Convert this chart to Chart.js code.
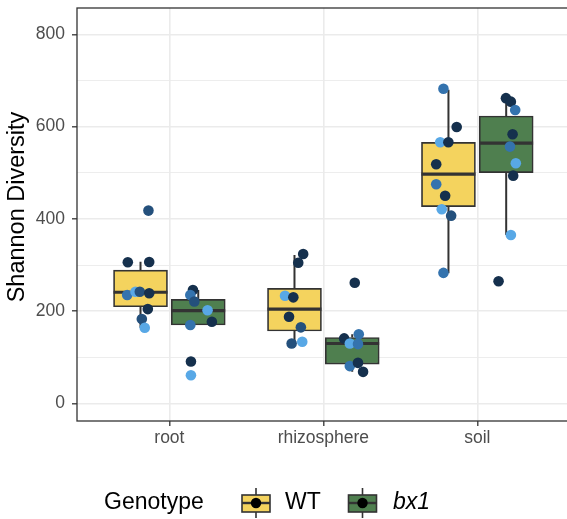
<!DOCTYPE html>
<html lang="en">
<head>
<meta charset="UTF-8" />
<title>Shannon Diversity by Compartment</title>
<script src="https://cdn.jsdelivr.net/npm/chart.js"></script>
<style>
  html, body { margin: 0; padding: 0; background: #fff; overflow: hidden; }
  #wrap { width: 575px; height: 519px; }
</style>
</head>
<body>
<div id="wrap"><canvas id="diversityChart"></canvas></div>
<script>
const compartments = ["root", "rhizosphere", "soil"];
const genotypes = ["WT", "bx1"];
const yTicks = [0, 100, 200, 300, 400, 500, 600, 700, 800];
const yTitle = "Shannon Diversity";

// box stats per compartment: [lower whisker, Q1, median, Q3, upper whisker]
const wtBoxes = [
  [164, 209.5, 241, 289, 307],
  [130, 157, 204.5, 249.5, 322],
  [282, 426.5, 497, 566, 680]
];
const bx1Boxes = [
  [170, 170, 201, 225.6, 246],
  [68.5, 85, 130, 143, 150],
  [365, 500, 564, 623, 661.6]
];

// jittered samples: position along the compartment axis and diversity
const wtX = [0.864, 0.730, 0.869, 0.726, 0.780, 0.808, 0.869, 0.860, 0.821, 0.840,
             1.869, 1.837, 1.751, 1.805, 1.777, 1.854, 1.794, 1.863,
             2.780, 2.866, 2.759, 2.812, 2.733, 2.733, 2.791, 2.769, 2.830, 2.780];
const wtY = [418, 306, 306.5, 235, 242, 242, 239, 204.5, 183, 164,
             324, 305, 233.5, 230, 188, 165, 130, 133.6,
             682, 599, 566, 566, 518.5, 475, 450, 421, 407, 283];
const bx1X = [1.153, 1.136, 1.162, 1.248, 1.136, 1.276, 1.140, 1.140,
              2.204, 2.135, 2.230, 2.172, 2.225, 2.172, 2.225, 2.258,
              3.186, 3.218, 3.246, 3.229, 3.212, 3.250, 3.233, 3.218, 3.138];
const bx1Y = [246, 235, 221, 202, 170, 177, 91, 61,
              261.6, 141, 150, 130, 128.6, 81, 88, 68.5,
              661.6, 654, 636, 583.5, 556.6, 520.6, 493.7, 365, 265];

// colour level of each sample (0 = darkest, 3 = lightest)
const wtShade = [1, 0, 0, 2, 3, 1, 0, 0, 1, 3,
                 0, 0, 3, 0, 0, 1, 1, 3,
                 2, 0, 3, 0, 0, 2, 0, 3, 1, 2];
const bx1Shade = [0, 2, 1, 3, 2, 0, 0, 3,
                  0, 0, 2, 3, 2, 2, 0, 0,
                  0, 0, 2, 0, 2, 3, 0, 3, 0];

const shadeColors = ["#15304d", "#24507c", "#3473ae", "#58a8e6"];
const boxFill = { WT: "#f4d35e", bx1: "#4f7f4f" };
const ink = "#333333";
const fontFamily = '"Liberation Sans", Arial, Helvetica, sans-serif';

const dodge = 0.1875;
const halfBox = 0.175;

function boxBars(stats, offset) {
  return stats.map((s, i) => ({ x: i + 1 + offset, y: [s[1], s[3]] }));
}

function medianLines(stats, offset) {
  const pts = [];
  stats.forEach((s, i) => {
    const c = i + 1 + offset;
    pts.push({ x: c - halfBox, y: s[2] }, { x: c + halfBox, y: s[2] }, { x: c, y: null });
  });
  return pts;
}

function whiskerLines(stats, offset) {
  const pts = [];
  stats.forEach((s, i) => {
    const c = i + 1 + offset;
    pts.push({ x: c, y: s[3] }, { x: c, y: s[4] }, { x: c, y: null });
    pts.push({ x: c, y: s[1] }, { x: c, y: s[0] }, { x: c, y: null });
  });
  return pts;
}

function samples(xs, ys) {
  return xs.map((x, i) => ({ x: x, y: ys[i] }));
}

const lineStyle = {
  type: "line",
  pointRadius: 0,
  pointHoverRadius: 0,
  tension: 0,
  spanGaps: false,
  borderColor: ink,
  borderCapStyle: "butt",
  fill: false
};

// panel outline drawn over the data, like a ggplot panel border
const panelBorder = {
  id: "panelBorder",
  afterDatasetsDraw(chart) {
    const { ctx, chartArea: a } = chart;
    ctx.save();
    ctx.strokeStyle = ink;
    ctx.lineWidth = 1.3;
    ctx.strokeRect(a.left, a.top, a.right - a.left, a.bottom - a.top);
    ctx.restore();
  }
};

// rotated y title and bottom legend with little boxplot keys
const genotypeLegend = {
  id: "genotypeLegend",
  afterDraw(chart) {
    const ctx = chart.ctx;
    ctx.save();
    ctx.fillStyle = "#000";
    ctx.textAlign = "center";
    ctx.textBaseline = "middle";
    ctx.font = "23.5px " + fontFamily;
    ctx.translate(18, 207);
    ctx.rotate(-Math.PI / 2);
    ctx.fillText(yTitle, 0, 0);
    ctx.restore();

    const cy = 503;
    ctx.save();
    ctx.fillStyle = "#000";
    ctx.textBaseline = "middle";
    ctx.font = "23px " + fontFamily;
    ctx.fillText("Genotype", 104, cy);

    const keys = [
      { name: genotypes[0], left: 242, textX: 285, italic: false, fill: boxFill.WT },
      { name: genotypes[1], left: 348.5, textX: 393, italic: true, fill: boxFill.bx1 }
    ];
    keys.forEach(k => {
      const w = 28, cx = k.left + w / 2;
      ctx.strokeStyle = ink;
      ctx.lineWidth = 1.6;
      ctx.beginPath();
      ctx.moveTo(cx, 488);
      ctx.lineTo(cx, 518);
      ctx.stroke();
      ctx.fillStyle = k.fill;
      ctx.fillRect(k.left, 495, w, 17);
      ctx.strokeRect(k.left, 495, w, 17);
      ctx.lineWidth = 2.4;
      ctx.beginPath();
      ctx.moveTo(k.left, cy);
      ctx.lineTo(k.left + w, cy);
      ctx.stroke();
      ctx.fillStyle = "#000";
      ctx.beginPath();
      ctx.arc(cx, cy, 5.2, 0, Math.PI * 2);
      ctx.fill();
      ctx.font = (k.italic ? "italic " : "") + "23px " + fontFamily;
      ctx.fillText(k.name, k.textX, cy);
    });
    ctx.restore();
  }
};

const datasets = [
  {
    label: "WT samples",
    type: "scatter",
    data: samples(wtX, wtY),
    backgroundColor: wtShade.map(s => shadeColors[s]),
    borderWidth: 0,
    pointRadius: 5.3,
    pointHoverRadius: 5.3,
    order: 0
  },
  {
    label: "bx1 samples",
    type: "scatter",
    data: samples(bx1X, bx1Y),
    backgroundColor: bx1Shade.map(s => shadeColors[s]),
    borderWidth: 0,
    pointRadius: 5.3,
    pointHoverRadius: 5.3,
    order: 0
  },
  Object.assign({ label: "WT median", data: medianLines(wtBoxes, -dodge), borderWidth: 3.2, order: 1 }, lineStyle),
  Object.assign({ label: "bx1 median", data: medianLines(bx1Boxes, dodge), borderWidth: 3.2, order: 1 }, lineStyle),
  {
    label: "WT box",
    type: "bar",
    data: boxBars(wtBoxes, -dodge),
    backgroundColor: boxFill.WT,
    borderColor: ink,
    borderWidth: 1.7,
    borderSkipped: false,
    barThickness: 54,
    grouped: false,
    order: 2
  },
  {
    label: "bx1 box",
    type: "bar",
    data: boxBars(bx1Boxes, dodge),
    backgroundColor: boxFill.bx1,
    borderColor: ink,
    borderWidth: 1.7,
    borderSkipped: false,
    barThickness: 54,
    grouped: false,
    order: 2
  },
  Object.assign({ label: "WT whiskers", data: whiskerLines(wtBoxes, -dodge), borderWidth: 2, order: 3 }, lineStyle),
  Object.assign({ label: "bx1 whiskers", data: whiskerLines(bx1Boxes, dodge), borderWidth: 2, order: 3 }, lineStyle)
];

const isMajor = v => v % 200 === 0;

new Chart(document.getElementById("diversityChart"), {
  type: "scatter",
  data: { datasets: datasets },
  plugins: [panelBorder, genotypeLegend],
  options: {
    responsive: true,
    maintainAspectRatio: false,
    devicePixelRatio: 1,
    animation: false,
    layout: { padding: { top: 8, right: 4, bottom: 63, left: 0 } },
    plugins: {
      legend: { display: false },
      tooltip: { enabled: false }
    },
    scales: {
      x: {
        type: "linear",
        min: 0.4,
        max: 3.6,
        offset: false,
        afterBuildTicks: s => { s.ticks = compartments.map((c, i) => ({ value: i + 1 })); },
        afterFit: s => { s.height = 35; s.paddingLeft = 0; s.paddingRight = 0; },
        ticks: {
          autoSkip: false,
          maxRotation: 0,
          padding: 2,
          color: "#4d4d4d",
          font: { family: fontFamily, size: 17.5 },
          callback: v => compartments[v - 1] || ""
        },
        grid: { offset: false, color: "#ebebeb", lineWidth: 1.6, tickColor: ink, tickLength: 5, tickWidth: 1.3 },
        border: { display: false }
      },
      y: {
        type: "linear",
        min: -38,
        max: 857,
        afterBuildTicks: s => { s.ticks = yTicks.map(v => ({ value: v })); },
        afterFit: s => { s.width = 77; s.paddingTop = 0; s.paddingBottom = 0; },
        ticks: {
          padding: 7,
          color: "#4d4d4d",
          font: { family: fontFamily, size: 17.5 },
          callback: v => (isMajor(v) ? String(v) : "")
        },
        grid: {
          color: "#ebebeb",
          lineWidth: c => (c.tick && isMajor(c.tick.value) ? 1.6 : 0.9),
          tickColor: c => (c.tick && isMajor(c.tick.value) ? ink : "rgba(0,0,0,0)"),
          tickLength: 5,
          tickWidth: 1.3
        },
        border: { display: false }
      }
    }
  }
});
</script>
</body>
</html>
